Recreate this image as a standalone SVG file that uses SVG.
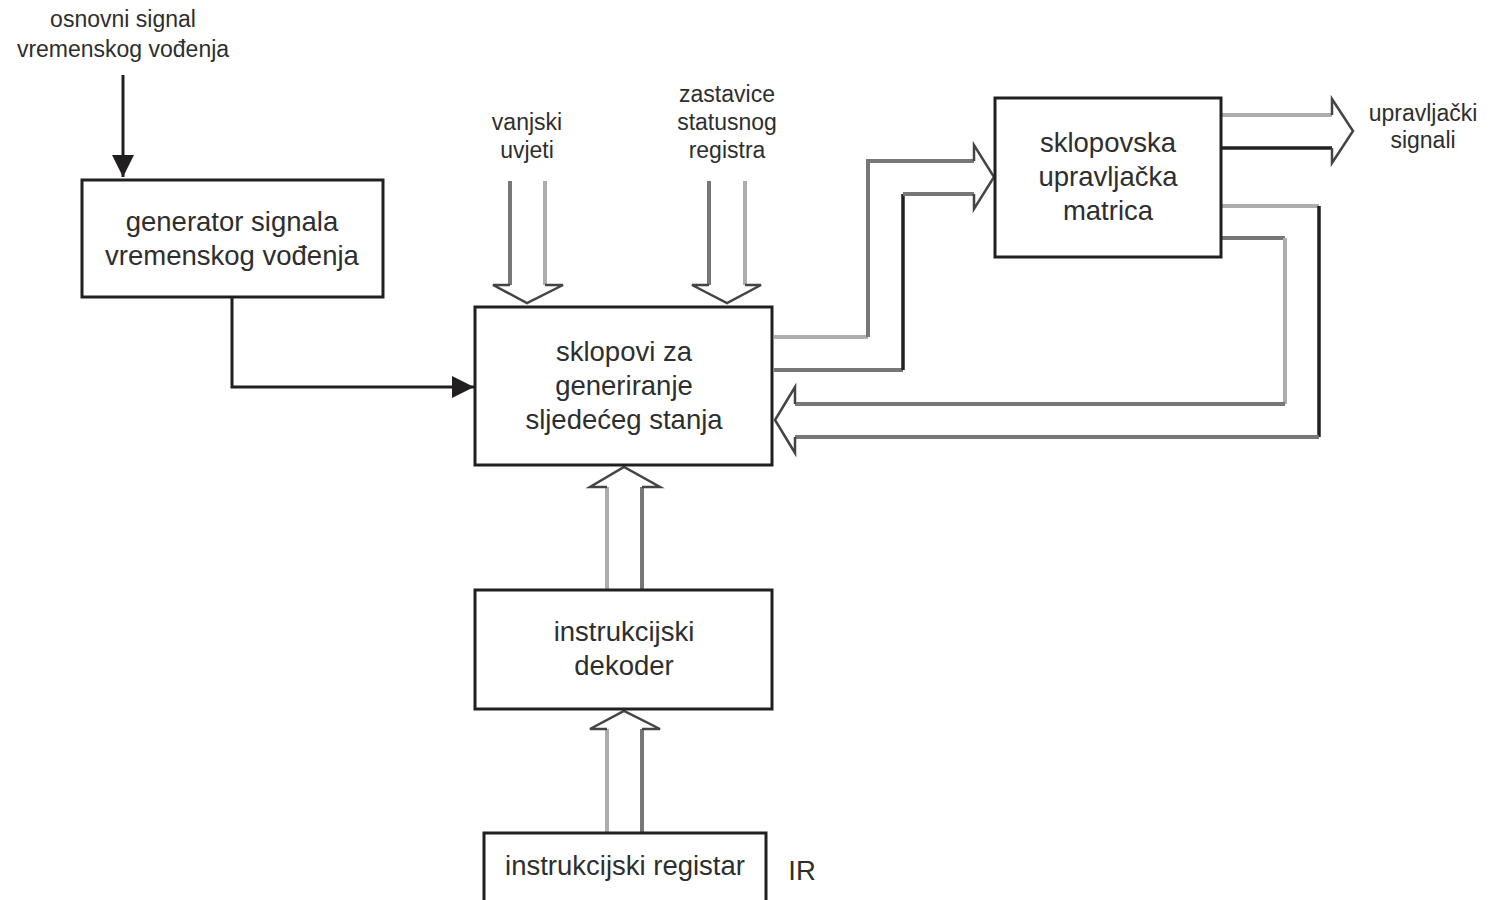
<svg xmlns="http://www.w3.org/2000/svg" width="1488" height="900" viewBox="0 0 1488 900">
  <defs>
    <style>
      .box { fill: #ffffff; stroke: #231f20; stroke-width: 3; }
      .t { font-family: "Liberation Sans", Arial, sans-serif; fill: #2e2e2e; text-anchor: middle; }
      .big { font-size: 27.5px; }
      .small { font-size: 23px; }
      .wire { fill: none; stroke: #231f20; stroke-width: 3; }
      .bus-d { fill: none; stroke: #777777; stroke-width: 4; }
      .bus-l { fill: none; stroke: #adadad; stroke-width: 4; }
      .bus-k { fill: none; stroke: #231f20; stroke-width: 3.5; }
      .head { fill: none; stroke: #444444; stroke-width: 2.5; stroke-linejoin: miter; }
    </style>
    <marker id="tri" viewBox="0 0 10 10" refX="10" refY="5" markerWidth="7.5" markerHeight="7.5" markerUnits="strokeWidth" orient="auto">
      <path d="M0,0 L10,5 L0,10 Z" fill="#231f20"/>
    </marker>
  </defs>

  <rect width="1488" height="900" fill="#ffffff"/>

  <!-- connectors -->
  <g id="connectors">
    <!-- clock input -->
    <path class="wire" d="M123,75 V177" marker-end="url(#tri)"/>
    <!-- clock to next-state logic -->
    <path class="wire" d="M232,297 V387 H474" marker-end="url(#tri)"/>

    <!-- external conditions bus -->
    <path class="bus-d" d="M510,181 V285"/>
    <path class="bus-l" d="M545,181 V285"/>
    <path class="head" d="M510,285 H493 L527,303 L563,285 H545"/>

    <!-- status flags bus -->
    <path class="bus-d" d="M709,181 V285"/>
    <path class="bus-l" d="M745,181 V285"/>
    <path class="head" d="M709,285 H692 L727,303 L761,285 H745"/>

    <!-- next-state logic to control matrix -->
    <path class="bus-l" d="M774,337 H868"/>
    <path class="bus-d" d="M868,337 V161 H974"/>
    <path class="bus-d" d="M774,370 H903"/>
    <path class="bus-k" d="M903,370 V194"/>
    <path class="bus-d" d="M903,194 H974"/>
    <path class="head" d="M974,161 V145 L994,177 L974,209 V194"/>

    <!-- control signals out -->
    <path class="bus-l" d="M1222,115 H1332"/>
    <path class="bus-k" d="M1222,148 H1332"/>
    <path class="head" d="M1332,115 V99 L1353,131 L1332,163 V148"/>

    <!-- feedback to next-state logic -->
    <path class="bus-d" d="M1222,238 H1285"/>
    <path class="bus-l" d="M1285,238 V404"/>
    <path class="bus-d" d="M1285,404 H795"/>
    <path class="bus-l" d="M1222,206 H1319"/>
    <path class="bus-k" d="M1319,206 V437"/>
    <path class="bus-d" d="M1319,437 H795"/>
    <path class="head" d="M795,404 V387 L775,420 L795,453 V437"/>

    <!-- decoder to next-state logic -->
    <path class="bus-l" d="M607,590 V487"/>
    <path class="bus-d" d="M642,590 V487"/>
    <path class="head" d="M607,487 H590 L624,467 L660,487 H642"/>

    <!-- IR to decoder -->
    <path class="bus-l" d="M607,833 V729"/>
    <path class="bus-d" d="M642,833 V729"/>
    <path class="head" d="M607,729 H590 L624,711 L660,729 H642"/>
  </g>

  <!-- free labels -->
  <g id="lbl-clock">
    <text class="t small" x="123" y="27">osnovni signal</text>
    <text class="t small" x="123" y="57">vremenskog vođenja</text>
  </g>
  <g id="lbl-external">
    <text class="t small" x="527" y="130">vanjski</text>
    <text class="t small" x="527" y="158">uvjeti</text>
  </g>
  <g id="lbl-flags">
    <text class="t small" x="727" y="102">zastavice</text>
    <text class="t small" x="727" y="130">statusnog</text>
    <text class="t small" x="727" y="158">registra</text>
  </g>
  <g id="lbl-out">
    <text class="t small" x="1423" y="121">upravljački</text>
    <text class="t small" x="1423" y="148">signali</text>
  </g>

  <!-- nodes -->
  <g id="node-generator">
    <rect class="box" x="82" y="180" width="301" height="117"/>
    <text class="t big" x="232" y="231">generator signala</text>
    <text class="t big" x="232" y="265">vremenskog vođenja</text>
  </g>
  <g id="node-next-state">
    <rect class="box" x="475" y="307" width="297" height="158"/>
    <text class="t big" x="624" y="361">sklopovi za</text>
    <text class="t big" x="624" y="395">generiranje</text>
    <text class="t big" x="624" y="429">sljedećeg stanja</text>
  </g>
  <g id="node-matrix">
    <rect class="box" x="995" y="98" width="226" height="159"/>
    <text class="t big" x="1108" y="152">sklopovska</text>
    <text class="t big" x="1108" y="186">upravljačka</text>
    <text class="t big" x="1108" y="220">matrica</text>
  </g>
  <g id="node-decoder">
    <rect class="box" x="475" y="590" width="297" height="119"/>
    <text class="t big" x="624" y="641">instrukcijski</text>
    <text class="t big" x="624" y="675">dekoder</text>
  </g>
  <g id="node-ir">
    <rect class="box" x="484" y="833" width="282" height="80"/>
    <text class="t big" x="625" y="875">instrukcijski registar</text>
    <text class="t big" x="802" y="880">IR</text>
  </g>
</svg>
